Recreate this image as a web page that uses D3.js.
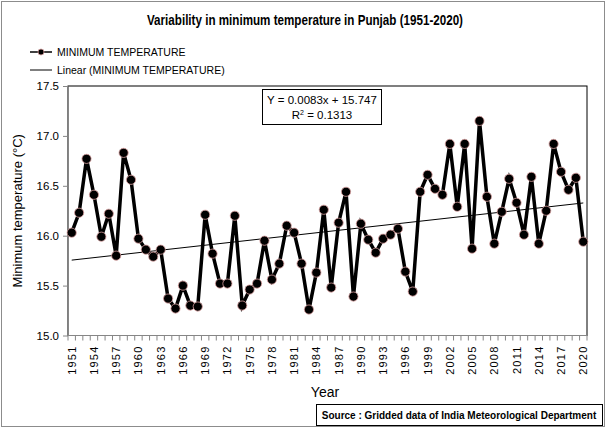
<!DOCTYPE html>
<html>
<head>
<meta charset="utf-8">
<script src="https://cdn.jsdelivr.net/npm/d3@7"></script>
<style>
  body { margin: 0; background: #fff; }
  svg { display: block; font-family: "Liberation Sans", Arial, sans-serif; }
</style>
</head>
<body>
<svg id="chart" width="607" height="429"></svg>
<script>
const years = d3.range(1951, 2021);
const minTemp = [
  16.03, 16.23, 16.77, 16.41, 15.99, 16.22, 15.80, 16.83, 16.56, 15.97,
  15.86, 15.79, 15.86, 15.37, 15.27, 15.50, 15.30, 15.29, 16.21, 15.82,
  15.52, 15.52, 16.20, 15.30, 15.46, 15.52, 15.95, 15.56, 15.72, 16.10,
  16.03, 15.72, 15.26, 15.63, 16.26, 15.48, 16.13, 16.44, 15.39, 16.12,
  15.96, 15.83, 15.97, 16.01, 16.07, 15.64, 15.44, 16.44, 16.61, 16.47,
  16.41, 16.92, 16.29, 16.92, 15.87, 17.15, 16.39, 15.92, 16.24, 16.57,
  16.33, 16.01, 16.59, 15.92, 16.25, 16.92, 16.64, 16.46, 16.58, 15.94
];
const yTicks = [15.0, 15.5, 16.0, 16.5, 17.0, 17.5];
const xLabelYears = d3.range(1951, 2021, 3);
const trendSlope = 0.0083, trendIntercept = 15.747;

const svg = d3.select("#chart");
const plot = {left: 68, right: 587, top: 86, bottom: 335.5};

// outer border
svg.append("rect").attr("x", 1.5).attr("y", 1.5).attr("width", 603).attr("height", 425)
  .attr("fill", "#fff").attr("stroke", "#8c8c8c").attr("stroke-width", 1);

const x = d3.scaleBand().domain(years).range([plot.left, plot.right]).padding(0);
const y = d3.scaleLinear().domain([15, 17.5]).range([plot.bottom, plot.top]);
const cx = d => x(d) + x.bandwidth() / 2;

// plot area border
svg.append("rect").attr("x", plot.left).attr("y", plot.top)
  .attr("width", plot.right - plot.left).attr("height", plot.bottom - plot.top)
  .attr("fill", "none").attr("stroke", "#000").attr("stroke-width", 1);

// y axis
const yAxis = d3.axisLeft(y).tickValues(yTicks).tickFormat(d3.format(".1f")).tickSizeInner(5).tickSizeOuter(0).tickPadding(4);
const gy = svg.append("g").attr("transform", `translate(${plot.left},0)`).call(yAxis);
gy.select(".domain").attr("stroke", "#868686");
gy.selectAll(".tick line").attr("stroke", "#868686");
gy.selectAll(".tick text").attr("font-size", 11.5).attr("fill", "#000")
  .style("font-family", "'Liberation Sans', Arial, sans-serif");

// x axis: ticks at category boundaries
const gx = svg.append("g").attr("transform", `translate(0,${plot.bottom})`);
gx.append("line").attr("x1", plot.left).attr("x2", plot.right).attr("stroke", "#868686");
const bounds = years.map(d => x(d)).concat([plot.right]);
gx.selectAll("line.tk").data(bounds).join("line").attr("class", "tk")
  .attr("x1", d => d).attr("x2", d => d).attr("y1", 0).attr("y2", 5).attr("stroke", "#868686");
gx.selectAll("text.lab").data(xLabelYears).join("text").attr("class", "lab")
  .attr("transform", d => `translate(${cx(d) + 4},${10}) rotate(-90)`)
  .attr("text-anchor", "end").attr("font-size", 11).attr("letter-spacing", 1.2)
  .text(d => d);

// trend line
const trend = x0 => trendIntercept + trendSlope * (years.indexOf(x0) + 1);
svg.append("line")
  .attr("x1", cx(years[0])).attr("y1", y(trend(years[0])))
  .attr("x2", cx(years[years.length - 1])).attr("y2", y(trend(years[years.length - 1])))
  .attr("stroke", "#000").attr("stroke-width", 1);

// series line
const line = d3.line().x((d, i) => cx(years[i])).y(d => y(d));
svg.append("path").datum(minTemp).attr("d", line)
  .attr("fill", "none").attr("stroke", "#000").attr("stroke-width", 3.5).attr("stroke-linejoin", "miter");
svg.selectAll("circle.pt").data(minTemp).join("circle").attr("class", "pt")
  .attr("cx", (d, i) => cx(years[i])).attr("cy", d => y(d)).attr("r", 4.6)
  .attr("fill", "#000").attr("stroke", "#d9a0a0").attr("stroke-width", 0.8);

// equation box
svg.append("rect").attr("x", 262.5).attr("y", 89.5).attr("width", 119).attr("height", 35)
  .attr("fill", "#fff").attr("stroke", "#000");
svg.append("text").attr("x", 322).attr("y", 104).attr("text-anchor", "middle").attr("font-size", 11.5)
  .text("Y = 0.0083x + 15.747");
const r2 = svg.append("text").attr("x", 322).attr("y", 119).attr("text-anchor", "middle").attr("font-size", 11.5);
r2.append("tspan").text("R");
r2.append("tspan").attr("dy", -4).attr("font-size", 7).text("2");
r2.append("tspan").attr("dy", 4).text(" = 0.1313");

// title
svg.append("text").attr("x", 305).attr("y", 25).attr("text-anchor", "middle")
  .attr("font-size", 14.5).attr("font-weight", "bold")
  .attr("textLength", 316).attr("lengthAdjust", "spacingAndGlyphs")
  .text("Variability in minimum temperature in Punjab (1951-2020)");

// legend
svg.append("line").attr("x1", 30).attr("x2", 52).attr("y1", 52).attr("y2", 52).attr("stroke", "#000").attr("stroke-width", 1.5);
svg.append("circle").attr("cx", 41).attr("cy", 52).attr("r", 3).attr("fill", "#000").attr("stroke", "#d9a0a0").attr("stroke-width", 0.8);
svg.append("text").attr("x", 57).attr("y", 55.5).attr("font-size", 10.5).text("MINIMUM TEMPERATURE");
svg.append("line").attr("x1", 30).attr("x2", 52).attr("y1", 70).attr("y2", 70).attr("stroke", "#000").attr("stroke-width", 1);
svg.append("text").attr("x", 57).attr("y", 73.5).attr("font-size", 10.5).text("Linear (MINIMUM TEMPERATURE)");

// axis titles
svg.append("text").attr("transform", `translate(22,${(plot.top + plot.bottom) / 2}) rotate(-90)`)
  .attr("text-anchor", "middle").attr("font-size", 13).text("Minimum temperature (°C)");
svg.append("text").attr("x", 325).attr("y", 397).attr("text-anchor", "middle").attr("font-size", 14).text("Year");

// source box
svg.append("rect").attr("x", 316.5).attr("y", 404.5).attr("width", 286).attr("height", 21)
  .attr("fill", "#fff").attr("stroke", "#000");
svg.append("text").attr("x", 459).attr("y", 419).attr("text-anchor", "middle").attr("font-size", 10)
  .attr("font-weight", "bold").text("Source : Gridded data of India Meteorological Department");
</script>
</body>
</html>
